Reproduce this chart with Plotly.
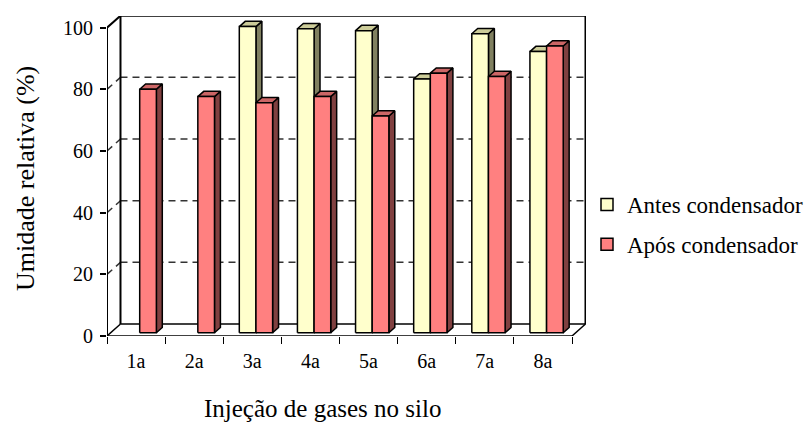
import plotly.graph_objects as go

# Relative humidity (%) measured before and after the condenser, per gas injection
categories = ["1a", "2a", "3a", "4a", "5a", "6a", "7a", "8a"]
antes = [None, None, 99.3, 98.6, 98.0, 82.3, 97.0, 91.2]
apos = [79.0, 76.6, 74.6, 76.6, 70.3, 84.2, 83.1, 93.0]
series_names = ["Antes condensador", "Após condensador"]
y_ticks = [0, 20, 40, 60, 80, 100]

# Colours per series: front, side, top faces
face_colors = [
    ("#FFFFCC", "#808060", "#CCCC99"),
    ("#FF8080", "#804040", "#CC6666"),
]

# Oblique "3-D" geometry in data units
DX, DY = 0.232, 3.89      # full depth of the box
F0, FD = 0.27, 0.44       # bar start depth and bar depth (fraction of box depth)
W = 0.2865                # bar width (category units)
FONT = "Liberation Serif"

fig = go.Figure()

x_lo, x_hi = 0.5, len(categories) + 0.5
y_top = 100

def bar_faces(values, slot):
    """Return polygons (side, top, front) for one series."""
    side_x, side_y, top_x, top_y, fr_x, fr_y = [], [], [], [], [], []
    b = F0 * DY
    sx, sy = FD * DX, FD * DY
    for i, v in enumerate(values):
        if v is None:
            continue
        c = i + 1 + F0 * DX
        xl = c - W + slot * W
        xr = xl + W
        t = b + v
        side_x += [xr, xr + sx, xr + sx, xr, xr, None]
        side_y += [b, b + sy, t + sy, t, b, None]
        top_x += [xl, xr, xr + sx, xl + sx, xl, None]
        top_y += [t, t, t + sy, t + sy, t, None]
        fr_x += [xl, xr, xr, xl, xl, None]
        fr_y += [b, b, t, t, b, None]
    return (side_x, side_y), (top_x, top_y), (fr_x, fr_y)

for slot, vals in enumerate([antes, apos]):
    faces = bar_faces(vals, slot)
    for (fx, fy), col in zip((faces[0], faces[1], faces[2]),
                             (face_colors[slot][1], face_colors[slot][2], face_colors[slot][0])):
        fig.add_trace(go.Scatter(
            x=fx, y=fy, mode="lines", fill="toself", fillcolor=col,
            line=dict(color="black", width=1.5), showlegend=False,
            hoverinfo="skip",
        ))

# Legend entries (swatches only)
for slot, name in enumerate(series_names):
    fig.add_trace(go.Bar(
        x=[None], y=[None], name=name, legendgroup=name,
        marker=dict(color=face_colors[slot][0], line=dict(color="black", width=1.5)),
    ))

# Box: back wall, floor, left wall and front axis
shapes = []
def seg(x0, y0, x1, y1, width=2, dash="solid", color="black"):
    shapes.append(dict(type="line", xref="x", yref="y", x0=x0, y0=y0, x1=x1, y1=y1,
                       line=dict(color=color, width=width, dash=dash), layer="below"))

for v in y_ticks[1:-1]:
    seg(x_lo + DX, v + DY, x_hi + DX, v + DY, 1.5, "7px,5px", "#333333")
    seg(x_lo, v, x_lo + DX, v + DY, 1.5, "7px,5px", "#333333")

seg(x_lo + DX, DY, x_lo + DX, y_top + DY)
seg(x_hi + DX, DY, x_hi + DX, y_top + DY)
seg(x_lo + DX, y_top + DY, x_hi + DX, y_top + DY)
seg(x_lo + DX, DY, x_hi + DX, DY, 1.5)
seg(x_lo, 0, x_hi, 0, 1.5)
seg(x_hi, 0, x_hi + DX, DY, 1.5)
seg(x_lo, 0, x_lo + DX, DY, 1.5)
seg(x_lo, 0, x_lo, y_top, 2)
seg(x_lo, y_top, x_lo + DX, y_top + DY, 2)

# Plot-area geometry (pixels)
L, T, R, B = 107, 16, 586, 336
px_per_cat = (572 - L) / len(categories)
x_range = [x_lo, x_lo + (R - L) / px_per_cat]
px_per_unit = (336 - 27.7) / 100
y_range = [0, (B - T) / px_per_unit]

def px(x):
    return (x - L) / (R - L)

def py(y):
    return (B - y) / (B - T)

fig.update_layout(
    width=806, height=423,
    margin=dict(l=L, r=806 - R, t=T, b=423 - B, pad=0, autoexpand=False),
    paper_bgcolor="white", plot_bgcolor="white",
    shapes=shapes,
    barmode="overlay",
    font=dict(family=FONT, color="black", size=20),
    showlegend=True,
    legend=dict(
        x=px(587), y=py(183), xanchor="left", yanchor="top",
        font=dict(family=FONT, size=23, color="black"),
        traceorder="grouped", tracegroupgap=7,
        bgcolor="rgba(0,0,0,0)", itemwidth=30,
    ),
    xaxis=dict(
        range=x_range, showgrid=False, zeroline=False, showline=False,
        tickmode="array", tickvals=list(range(1, len(categories) + 1)), ticktext=categories,
        ticks="", tickfont=dict(family=FONT, size=20), ticklabelstandoff=11,
        minor=dict(ticks="outside", tick0=0.5, dtick=1, ticklen=7, tickwidth=1.2,
                   tickcolor="black", showgrid=False),
        fixedrange=True,
    ),
    yaxis=dict(
        range=y_range, showgrid=False, zeroline=False, showline=False,
        tickmode="array", tickvals=y_ticks, ticks="outside", ticklen=6, tickwidth=1.5,
        tickcolor="black", tickfont=dict(family=FONT, size=20), ticklabelstandoff=3,
        fixedrange=True,
    ),
    annotations=[
        dict(text="Umidade relativa (%)", textangle=-90, xref="paper", yref="paper",
             x=px(25), y=py(179), xanchor="center", yanchor="middle", showarrow=False,
             font=dict(family=FONT, size=26)),
        dict(text="Injeção de gases no silo", xref="paper", yref="paper",
             x=px(322), y=py(408), xanchor="center", yanchor="middle", showarrow=False,
             font=dict(family=FONT, size=25)),
    ],
)

fig.write_html("out.html")
